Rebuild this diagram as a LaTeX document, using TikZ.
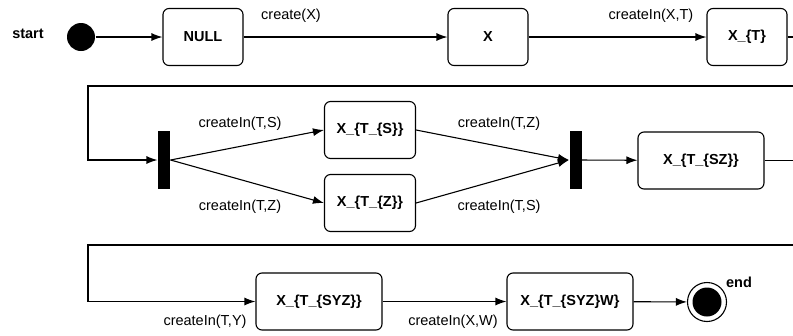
\documentclass[tikz,border=0pt]{standalone}
\usepackage{fontspec}
\setmainfont{Liberation Sans}
\usetikzlibrary{arrows.meta,positioning}

\begin{document}
\begin{tikzpicture}[x=1pt,y=-1pt,line width=1.1pt,
  font=\fontsize{14.5}{16}\selectfont,
  >={Latex[length=11pt,width=8pt]}]
\tikzstyle{state}=[draw,rounded corners=6pt,minimum height=57pt,
inner sep=2pt,font=\fontsize{14.5}{16}\selectfont\bfseries]
\tikzstyle{bar}=[fill=black,minimum width=12pt,minimum height=58pt,inner sep=0pt]
\tikzstyle{tag}=[font=\fontsize{14.5}{16}\selectfont\bfseries]

\clip (0,0) rectangle (793,335);

% first row
\node[circle,fill=black,minimum size=28pt,inner sep=0pt] at (81,37) (start) {};
\node[tag] at (28,34) (startlbl) {start};
\node[state,minimum width=80pt] at (203,37) (null) {NULL};
\node[state,minimum width=80pt] at (488,37) (x) {X};
\node[state,minimum width=80pt] at (747,37) (xt) {X\_\{T\}};
\node at (291,16) (l1) {create(X)};
\node at (651,16) (l2) {createIn(X,T)};

% second row
\node[bar] at (164,160) (fork) {};
\node[state,minimum width=91pt] at (370,130) (xts) {X\_\{T\_\{S\}\}};
\node[state,minimum width=91pt] at (370,203) (xtz) {X\_\{T\_\{Z\}\}};
\node[bar] at (575.5,160) (join) {};
\node[state,minimum width=126pt] at (701,160.5) (xtsz) {X\_\{T\_\{SZ\}\}};
\node at (240,124) (l3) {createIn(T,S)};
\node at (240,207) (l4) {createIn(T,Z)};
\node at (499,124) (l5) {createIn(T,Z)};
\node at (499,207) (l6) {createIn(T,S)};

% third row
\node[state,minimum width=126pt] at (319,301.5) (xtsyz) {X\_\{T\_\{SYZ\}\}};
\node[state,minimum width=126pt] at (570,301.5) (xtsyzw) {X\_\{T\_\{SYZ\}W\}};
\node[circle,draw,minimum size=39pt,inner sep=0pt] at (707,302) (stop) {};
\node[circle,fill=black,minimum size=29pt,inner sep=0pt] at (stop) (stopin) {};
\node[tag] at (739,282) (endlbl) {end};
\node at (205,322) (l7) {createIn(T,Y)};
\node at (453,322) (l8) {createIn(X,W)};

\draw[->] (start) -- (null);
\draw[->] (null) -- (x);
\draw[->] (x) -- (xt);
\draw[->] (xt.east) -- (810,37) -- (810,86) -- (88,86) |- (fork.west);
\draw[->] (fork.east) -- (xts.west);
\draw[->] (fork.east) -- (xtz.west);
\draw[->] (xts.east) -- (join.west);
\draw[->] (xtz.east) -- (join.west);
\draw[->] (join) -- (xtsz);
\draw[->] (xtsz.east) -- (810,160.5) -- (810,245) -- (88,245) |- (xtsyz.west);
\draw[->] (xtsyz) -- (xtsyzw);
\draw[->] (xtsyzw) -- (stop);

\end{tikzpicture}
\end{document}
